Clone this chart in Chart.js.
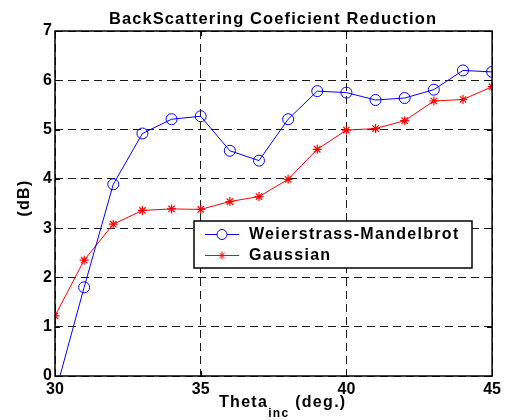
<!DOCTYPE html>
<html><head><meta charset="utf-8">
<script src="https://cdn.jsdelivr.net/npm/chart.js@4.4.1/dist/chart.umd.min.js"></script>
<style>html,body{margin:0;padding:0;background:#fff}#wrap{width:505px;height:420px}</style>
</head><body><div id="wrap"><canvas id="c" width="505" height="420"></canvas></div>
<script>
const theta = [30,31,32,33,34,35,36,37,38,39,40,41,42,43,44,45];
const weierstrass = [-0.37,1.8,3.89,4.92,5.21,5.27,4.57,4.37,5.21,5.78,5.75,5.60,5.64,5.81,6.20,6.17];
const gaussian = [1.22,2.35,3.08,3.36,3.39,3.38,3.54,3.64,3.99,4.60,4.99,5.02,5.18,5.58,5.61,5.87];
const xTicks = [30,35,40,45];
const yTicks = [0,1,2,3,4,5,6,7];
const seriesNames = ['Weierstrass-Mandelbrot','Gaussian'];
const titleText = 'BackScattering Coeficient Reduction';

const FONT = 'Liberation Sans, Arial, sans-serif';

const decor = {
  id:'decor',
  afterDraw(chart){
    const ctx = chart.ctx, a = chart.chartArea;
    const xs = chart.scales.x, ys = chart.scales.y;
    ctx.save();
    // inward tick marks
    ctx.strokeStyle='#000'; ctx.lineWidth=1;
    ctx.beginPath();
    xTicks.forEach(v=>{const px=Math.round(xs.getPixelForValue(v))+0.5;
      ctx.moveTo(px,a.bottom); ctx.lineTo(px,a.bottom-5);
      ctx.moveTo(px,a.top); ctx.lineTo(px,a.top+5);});
    yTicks.forEach(v=>{const py=Math.round(ys.getPixelForValue(v))+0.5;
      ctx.moveTo(a.left,py); ctx.lineTo(a.left+5,py);
      ctx.moveTo(a.right,py); ctx.lineTo(a.right-5,py);});
    ctx.stroke();
    // border
    ctx.lineWidth=1.5;
    ctx.strokeRect(a.left,a.top,a.right-a.left,a.bottom-a.top);
    // title
    ctx.fillStyle='#000';
    ctx.letterSpacing='1.1px';
    ctx.font='bold 16.5px '+FONT; ctx.textAlign='center'; ctx.textBaseline='alphabetic';
    ctx.fillText(titleText, 273, 24);
    ctx.letterSpacing='1.3px';
    // x label
    ctx.textAlign='left';
    ctx.font='bold 16px '+FONT;
    let x0=219; ctx.fillText('Theta', x0, 407);
    x0 += ctx.measureText('Theta').width;
    ctx.font='bold 12px '+FONT;
    ctx.fillText('inc', x0, 417);
    x0 += ctx.measureText('inc').width;
    ctx.font='bold 16px '+FONT;
    ctx.fillText(' (deg.)', x0, 407);
    // y label
    ctx.save(); ctx.translate(29,198); ctx.rotate(-Math.PI/2);
    ctx.textAlign='center'; ctx.font='bold 16px '+FONT; ctx.fillText('(dB)',0,0);
    ctx.restore();
    // legend
    const lx=194, ly=221, lw=278, lh=47;
    ctx.fillStyle='#fff'; ctx.fillRect(lx,ly,lw,lh);
    ctx.strokeStyle='#000'; ctx.lineWidth=1.5; ctx.strokeRect(lx,ly,lw,lh);
    const rows=[{y:234,color:'#0000ff',style:'circle',r:5},{y:255,color:'#ff0000',style:'star',r:4}];
    rows.forEach((r,i)=>{
      ctx.strokeStyle=r.color; ctx.lineWidth=1;
      ctx.beginPath(); ctx.moveTo(205,r.y+0.5); ctx.lineTo(239,r.y+0.5); ctx.stroke();
      Chart.helpers.drawPoint(ctx,{pointStyle:r.style,radius:r.r,borderWidth:1,rotation:0},222,r.y+0.5);
      ctx.fillStyle='#000'; ctx.font='bold 16px '+FONT; ctx.textAlign='left'; ctx.textBaseline='middle';
      ctx.fillText(seriesNames[i],249,r.y+1);
    });
    ctx.restore();
  }
};

new Chart(document.getElementById('c'),{
  type:'line',
  data:{datasets:[
    {label:seriesNames[0],data:theta.map((t,i)=>({x:t,y:weierstrass[i]})),borderColor:'#0000ff',backgroundColor:'rgba(0,0,0,0)',borderWidth:1,pointStyle:'circle',pointRadius:5.5,pointBorderColor:'#0000ff',pointBackgroundColor:'rgba(0,0,0,0)',pointBorderWidth:1,tension:0},
    {label:seriesNames[1],data:theta.map((t,i)=>({x:t,y:gaussian[i]})),borderColor:'#ff0000',backgroundColor:'#ff0000',borderWidth:1,pointStyle:'star',pointRadius:4.5,pointBorderColor:'#ff0000',pointBorderWidth:1.2,tension:0}
  ]},
  options:{
    responsive:false,animation:false,
    layout:{padding:{left:0,top:31,right:9,bottom:0}},
    plugins:{legend:{display:false},title:{display:false},tooltip:{enabled:false}},
    scales:{
      x:{type:'linear',min:30,max:45,
        afterFit(s){s.height=44;},
        afterBuildTicks(s){s.ticks=xTicks.map(v=>({value:v}));},
        border:{display:false,dash:[8,5]},
        grid:{color:'#1a1a1a',lineWidth:1,drawTicks:false},
        ticks:{font:{family:FONT,size:16,weight:'bold'},color:'#000',padding:4,maxRotation:0,autoSkip:false}},
      y:{type:'linear',min:0,max:7,
        afterFit(s){s.width=55;},
        afterBuildTicks(s){s.ticks=yTicks.map(v=>({value:v}));},
        border:{display:false,dash:[8,5]},
        grid:{color:'#1a1a1a',lineWidth:1,drawTicks:false},
        ticks:{font:{family:FONT,size:16,weight:'bold'},color:'#000',padding:3}}
    }
  },
  plugins:[decor]
});
</script></body></html>
